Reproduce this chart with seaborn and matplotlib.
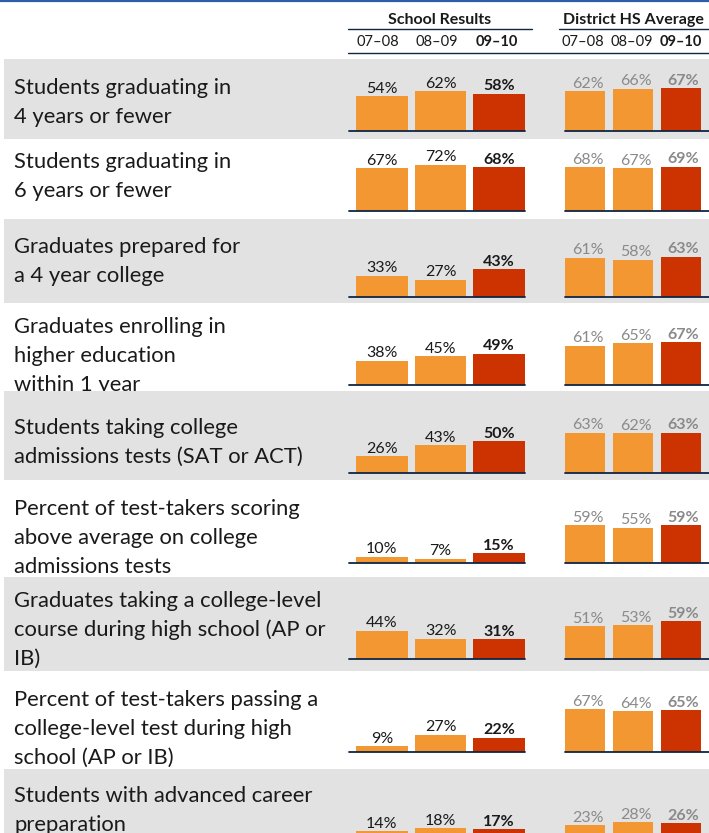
import numpy as np
import pandas as pd
import matplotlib.pyplot as plt
import seaborn as sns
from matplotlib.patches import Rectangle
from matplotlib.lines import Line2D

#==========================data===================================
labels = [
    ["Students graduating in", "4 years or fewer"],
    ["Students graduating in", "6 years or fewer"],
    ["Graduates prepared for", "a 4 year college"],
    ["Graduates enrolling in", "higher education", "within 1 year"],
    ["Students taking college", "admissions tests (SAT or ACT)"],
    ["Percent of test-takers scoring", "above average on college", "admissions tests"],
    ["Graduates taking a college-level", "course during high school (AP or", "IB)"],
    ["Percent of test-takers passing a", "college-level test during high", "school (AP or IB)"],
    ["Students with advanced career", "preparation"],
]
years = ["07–08", "08–09", "09–10"]
school = [
    [54, 62, 58],
    [67, 72, 68],
    [33, 27, 43],
    [38, 45, 49],
    [26, 43, 50],
    [10, 7, 15],
    [44, 32, 31],
    [9, 27, 22],
    [14, 18, 17],
]
district = [
    [62, 66, 67],
    [68, 67, 69],
    [61, 58, 63],
    [61, 65, 67],
    [63, 62, 63],
    [59, 55, 59],
    [51, 53, 59],
    [67, 64, 65],
    [23, 28, 26],
]

#==========================layout (pixels)========================
W, H = 709, 833
row_top = [59, 139, 219, 303, 391, 480, 577, 671, 769]
row_bot = [139, 219, 303, 391, 480, 577, 671, 769, 870]
base_y = [131, 211, 297, 385, 473, 563, 659, 752, 840]
text_y = [94, 168, 253, 333, 434, 515, 607, 706, 802]
px_per_pct = 0.64

orange = "#F39733"
red = "#CC3300"
bg_gray = "#E2E2E2"
navy = "#0F2543"
lab_gray = "#8A8A8A"
ink = "#1A1A1A"
FONT = ["Lato", "DejaVu Sans"]

sns.set_theme(style="white")
plt.rcParams["font.family"] = FONT

fig = plt.figure(figsize=(W / 100, H / 100), dpi=100)
fig.patch.set_facecolor("white")


def fx(x):
    return x / W


def fy(y):
    return 1 - y / H


# top blue rule
fig.add_artist(Line2D([0, 1], [fy(1), fy(1)], color="#2E5EA8", lw=1.6,
                      transform=fig.transFigure))

# headers
fig.text(fx(440), fy(24), "School Results", ha="center", va="baseline",
         fontsize=11.5, fontweight="bold", color=ink)
fig.text(fx(633), fy(24), "District HS Average", ha="center", va="baseline",
         fontsize=11.5, fontweight="bold", color=ink)
for x0, x1 in [(348, 532), (559, 709)]:
    fig.add_artist(Line2D([fx(x0), fx(x1)], [fy(28.5), fy(28.5)], color=navy,
                          lw=1.0, transform=fig.transFigure))
fig.add_artist(Line2D([fx(348), fx(709)], [fy(52.5), fy(52.5)], color=navy,
                      lw=1.0, transform=fig.transFigure))
for xs in [[378, 437, 497], [583, 632, 681]]:
    for k, (x, yr) in enumerate(zip(xs, years)):
        fig.text(fx(x), fy(46), yr, ha="center", va="baseline", fontsize=10.5,
                 color=ink, fontweight="bold" if k == 2 else "normal")

# rows
for i in range(len(labels)):
    if i % 2 == 0:
        fig.add_artist(Rectangle((fx(4), fy(row_bot[i])), fx(709) - fx(4),
                                 (row_bot[i] - row_top[i]) / H,
                                 transform=fig.transFigure, facecolor=bg_gray,
                                 edgecolor="none", zorder=1 + 2 * i))
    for j, line in enumerate(labels[i]):
        fig.text(fx(14), fy(text_y[i] + 29 * j), line, ha="left", va="baseline",
                 fontsize=15.8, color=ink, zorder=2 + 2 * i)

    h_px = base_y[i] - row_top[i]
    panels = [
        (school[i], 349, 525, (-0.56, 2.44), 0.88, ink, 0),
        (district[i], 565, 709, (-0.42, 2.59), 0.84, lab_gray, 2),
    ]
    for vals, x0, x1, xlim, wid, tcol, dx in panels:
        ax = fig.add_axes([fx(x0), fy(base_y[i]), (x1 - x0) / W, h_px / H])
        ax.set_zorder(60)
        ax.patch.set_alpha(0)
        df = pd.DataFrame({"year": years, "pct": vals})
        sns.barplot(data=df, x="year", y="pct", hue="year",
                    palette=[orange, orange, red], width=wid, legend=False,
                    saturation=1, linewidth=0, edgecolor="none", ax=ax)
        ax.set_xlim(*xlim)
        ax.set_ylim(0, h_px / px_per_pct)
        ax.axhline(0, color=navy, lw=1.3, clip_on=False)
        ax.set_axis_off()
        for k, v in enumerate(vals):
            ax.annotate(f"{v}%", (k, v), xytext=(dx, 2.5), textcoords="offset points",
                        ha="center", va="baseline", fontsize=11.5, color=tcol,
                        fontweight="bold" if k == 2 else "normal",
                        annotation_clip=False)

fig.savefig("out.png", dpi=100, facecolor="white")
